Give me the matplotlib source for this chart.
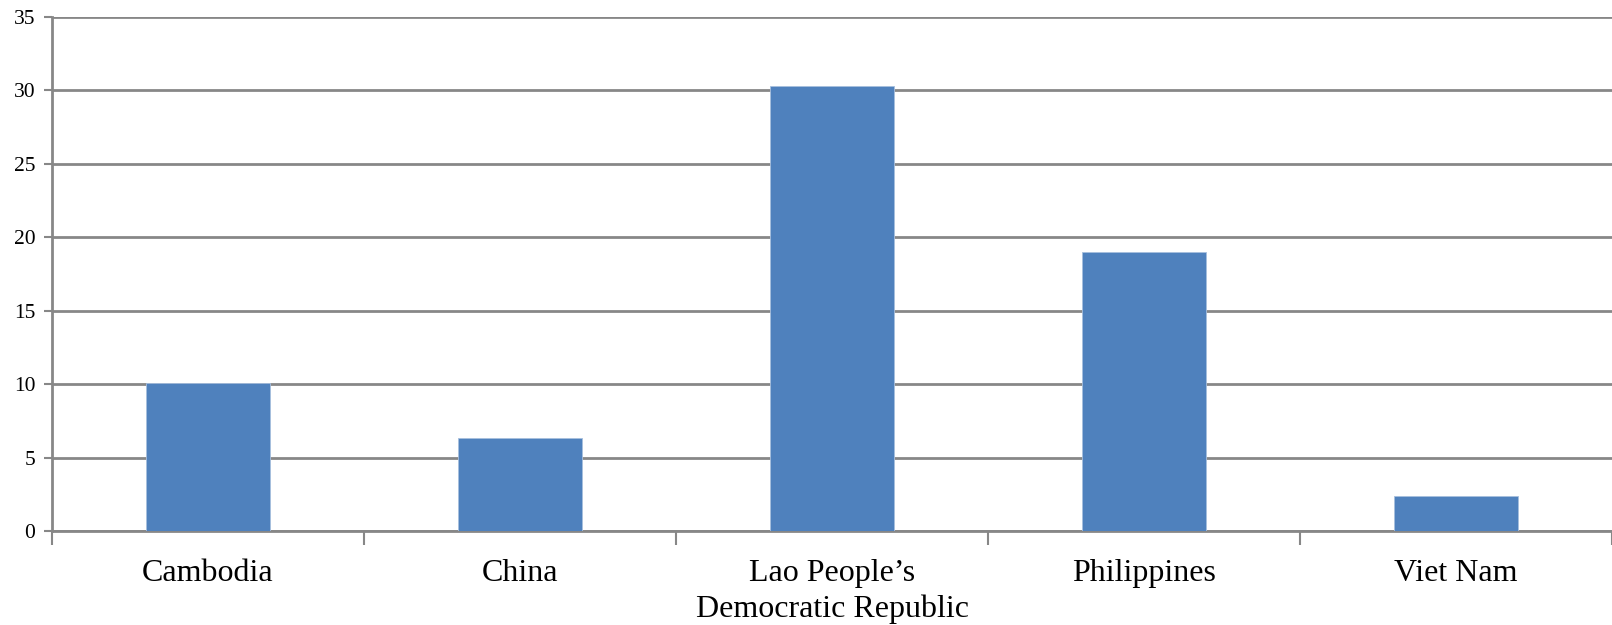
import matplotlib
matplotlib.use("Agg")
import matplotlib.pyplot as plt
import numpy as np

categories = ["Cambodia", "China", "Lao People\u2019s\nDemocratic Republic", "Philippines", "Viet Nam"]
values = [10.1, 6.3, 30.3, 19.0, 2.4]
y_ticks = [0, 5, 10, 15, 20, 25, 30, 35]

fig = plt.figure(figsize=(16.12, 6.25), dpi=100)
ax = fig.add_axes([52/1612, 1-531/625, 1-52/1612, (531-16.7)/625])

grid_col = "#878787"
x = np.arange(len(categories))
ax.bar(x, values, width=0.4, color="#4F81BD", edgecolor="#A7BFDE", linewidth=0.6, zorder=3)

ax.set_xlim(-0.5, len(categories) - 0.5)
ax.set_ylim(0, 35)
ax.set_yticks(y_ticks)
ax.set_yticklabels([str(v) for v in y_ticks], fontsize=15.5, family="Liberation Serif")
for v in y_ticks:
    ax.axhline(v, color=grid_col, linewidth=2, zorder=1)

ax.set_xticks(x)
ax.set_xticklabels(categories, fontsize=23, family="Liberation Serif", linespacing=1.3)
ax.tick_params(axis="x", which="major", length=0, pad=20)
ax.set_xticks(np.arange(-0.5, len(categories), 1.0), minor=True)
ax.tick_params(axis="x", which="minor", length=10, width=1.5, color=grid_col, direction="out")
ax.tick_params(axis="y", length=6, width=1.5, color=grid_col, direction="out", pad=6)

for s in ["top", "right"]:
    ax.spines[s].set_visible(False)
ax.spines["left"].set_color(grid_col)
ax.spines["left"].set_linewidth(2)
ax.spines["bottom"].set_color(grid_col)
ax.spines["bottom"].set_linewidth(2)

fig.savefig("out.png", dpi=100)
